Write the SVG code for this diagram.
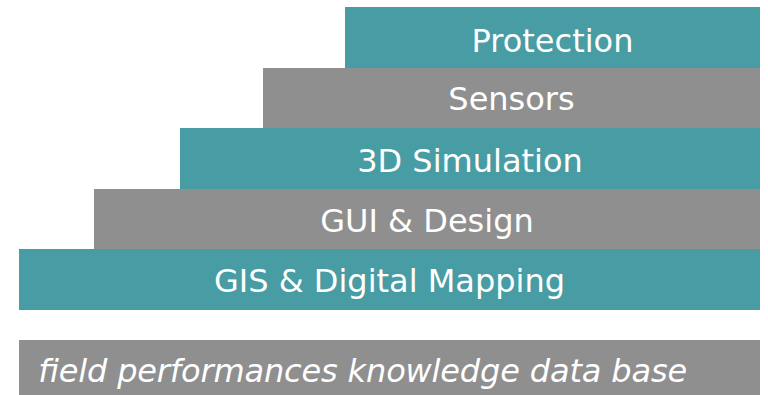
<svg xmlns="http://www.w3.org/2000/svg" width="768" height="395" viewBox="0 0 768 395">
<style>
.teal{fill:#489ca4}
.gray{fill:#8f8f8f}
.lbl{font-family:"DejaVu Sans","Noto Sans",sans-serif;font-size:32px;fill:#ffffff;text-anchor:middle}
.base{font-family:"DejaVu Sans","Noto Sans",sans-serif;font-size:32px;fill:#ffffff;font-style:italic}
</style>
<rect width="768" height="395" fill="#ffffff"/>
<g id="protection"><rect class="teal" x="345" y="7" width="415" height="61"/><text class="lbl" x="552.5" y="52">Protection</text></g>
<g id="sensors"><rect class="gray" x="263" y="68" width="497" height="61"/><text class="lbl" x="511.5" y="110">Sensors</text></g>
<g id="simulation"><rect class="teal" x="180" y="128" width="580" height="61"/><text class="lbl" x="470" y="171.5">3D Simulation</text></g>
<g id="gui"><rect class="gray" x="94" y="189" width="666" height="60"/><text class="lbl" x="427" y="231.5">GUI &amp; Design</text></g>
<g id="gis"><rect class="teal" x="19" y="249" width="741" height="61"/><text class="lbl" x="389.5" y="291.5">GIS &amp; Digital Mapping</text></g>
<g id="database"><rect class="gray" x="19" y="340" width="741" height="55"/><text class="base" x="38" y="381.5" textLength="649" lengthAdjust="spacing">field performances knowledge data base</text></g>
<g id="connectors"/>
</svg>
